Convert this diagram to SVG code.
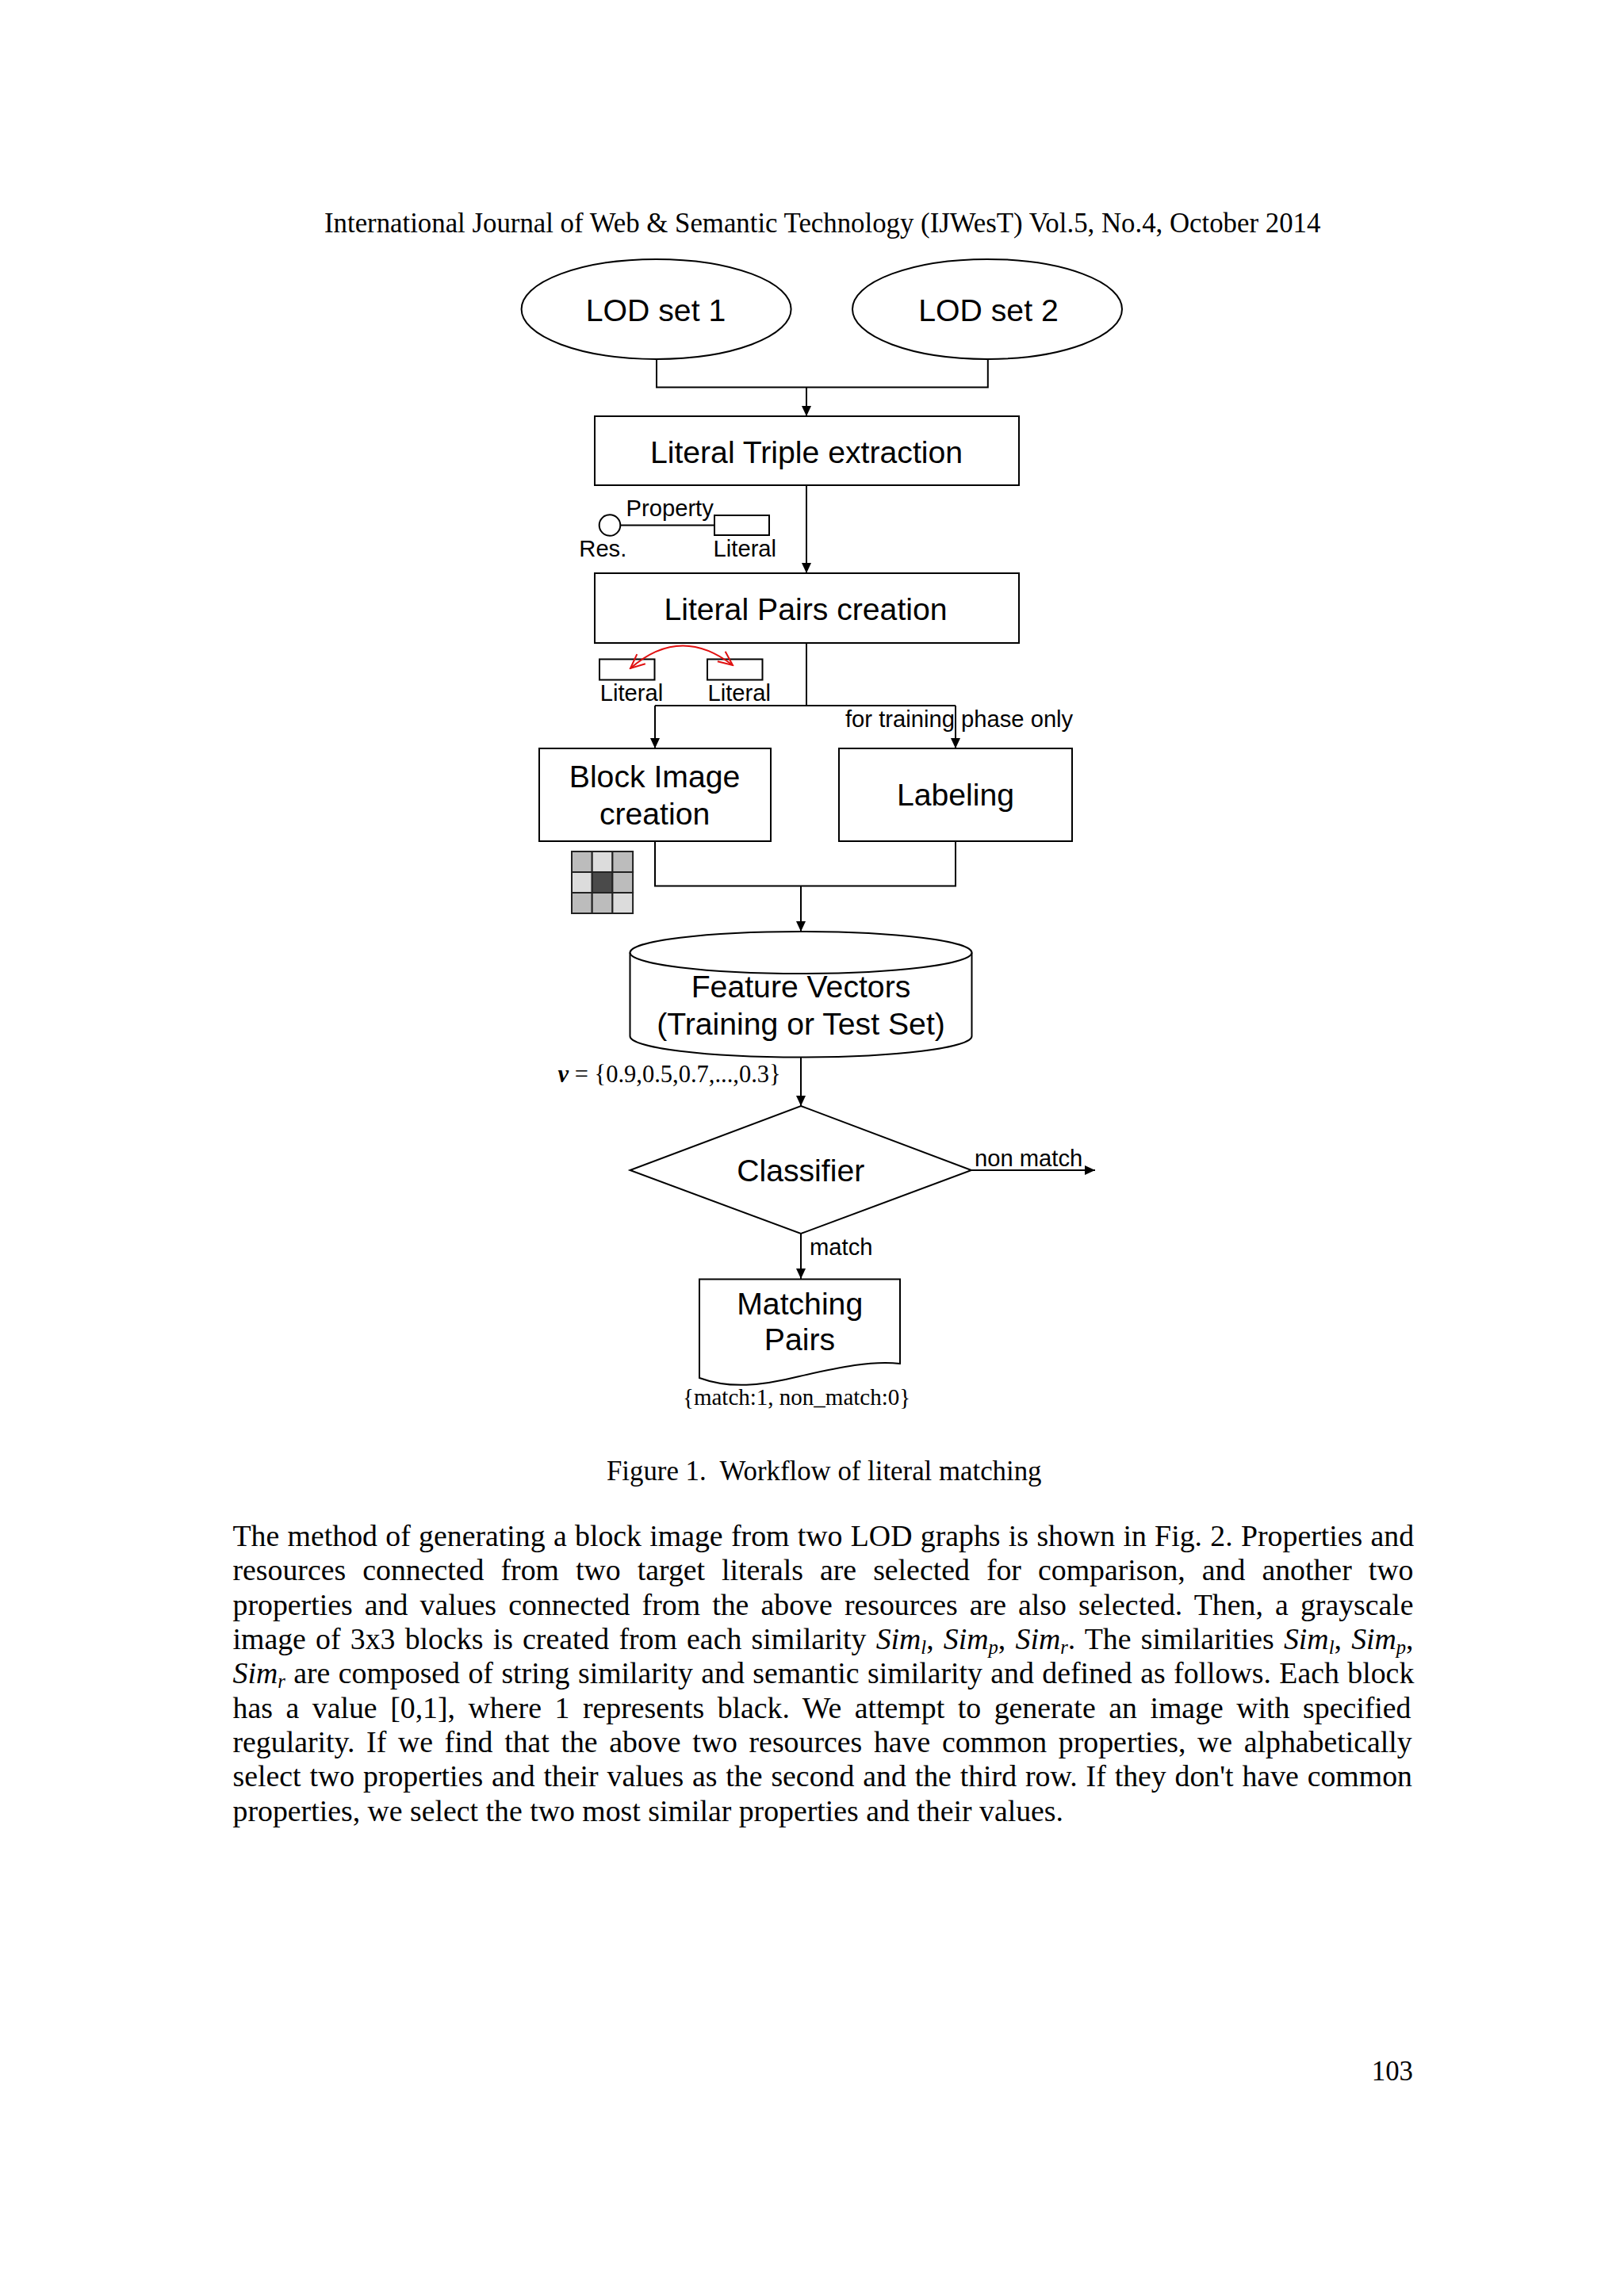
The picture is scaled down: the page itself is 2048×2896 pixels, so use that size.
<svg xmlns="http://www.w3.org/2000/svg" width="2048" height="2896" viewBox="0 0 2048 2896">
<defs>
<style>
.sans{font-family:"Liberation Sans",Arial,sans-serif;fill:#000}
.big{font-size:39.2px}
.small{font-size:29.2px}
.serif{font-family:"Liberation Serif","Times New Roman",serif;fill:#000}
.body{font-size:37.8px}
.hdr{font-size:34.8px}
.shape{fill:#fff;stroke:#000;stroke-width:2}
.line{fill:none;stroke:#000;stroke-width:2}
.it{font-style:italic}
.sub{font-style:italic;font-size:24.5px}
</style>
<marker id="arr" viewBox="0 0 13 12" refX="13" refY="6" markerWidth="13" markerHeight="12" markerUnits="userSpaceOnUse" orient="auto">
<path d="M0,0 L13,6 L0,12 z" fill="#000"/>
</marker>
<marker id="redv" viewBox="-20 -10 22 20" refX="0" refY="0" markerWidth="22" markerHeight="20" markerUnits="userSpaceOnUse" orient="auto-start-reverse">
<path d="M-18,-8 L0,0 L-18,8" fill="none" stroke="#e01010" stroke-width="2"/>
</marker>
</defs>
<rect x="0" y="0" width="2048" height="2896" fill="#fff"/>

<text class="serif hdr" x="409" y="293">International Journal of Web &amp; Semantic Technology (IJWesT) Vol.5, No.4, October 2014</text>

<g id="connectors">
<path class="line" d="M828,453 V488.6 H1245.8 V453"/>
<path class="line" d="M1017,488.6 V525" marker-end="url(#arr)"/>
<path class="line" d="M1017,612 V723" marker-end="url(#arr)"/>
<path class="line" d="M1017,811 V890"/>
<path class="line" d="M826,890 H1205"/>
<path class="line" d="M826,890 V944" marker-end="url(#arr)"/>
<path class="line" d="M1205,890 V944" marker-end="url(#arr)"/>
<path class="line" d="M826,1061 V1117.5 H1205 V1061"/>
<path class="line" d="M1010,1117.5 V1175" marker-end="url(#arr)"/>
<path class="line" d="M1010,1333 V1395" marker-end="url(#arr)"/>
<path class="line" d="M1225,1476 H1381" marker-end="url(#arr)"/>
<path class="line" d="M1010,1556 V1613" marker-end="url(#arr)"/>
<text class="sans small" x="1066" y="917">for training phase only</text>
<text class="serif" x="703.5" y="1365" font-size="30.5"><tspan font-weight="bold" font-style="italic">v</tspan> = {0.9,0.5,0.7,...,0.3}</text>
<text class="sans small" x="1229" y="1470.5">non match</text>
<text class="sans small" x="1021" y="1583">match</text>
</g>

<g id="lod1">
<ellipse class="shape" cx="827.6" cy="389.9" rx="170" ry="63"/>
<text class="sans big" x="827" y="404.6" text-anchor="middle">LOD set 1</text>
</g>
<g id="lod2">
<ellipse class="shape" cx="1245" cy="389.9" rx="170" ry="63"/>
<text class="sans big" x="1246.5" y="404.6" text-anchor="middle">LOD set 2</text>
</g>

<g id="triple-extraction">
<rect class="shape" x="750" y="525" width="535" height="87"/>
<text class="sans big" x="1017" y="584" text-anchor="middle">Literal Triple extraction</text>
</g>

<g id="triple-icon">
<path class="line" d="M782.5,662.5 H901"/>
<circle class="shape" cx="769" cy="662.5" r="13.3"/>
<rect class="shape" x="901" y="650" width="69" height="25"/>
<text class="sans small" x="789.5" y="651">Property</text>
<text class="sans small" x="730.3" y="702">Res.</text>
<text class="sans small" x="899.6" y="702">Literal</text>
</g>

<g id="pairs-creation">
<rect class="shape" x="750" y="723" width="535" height="88"/>
<text class="sans big" x="1016" y="782" text-anchor="middle">Literal Pairs creation</text>
</g>

<g id="pair-icon">
<rect class="shape" x="756" y="831.5" width="69.5" height="26"/>
<rect class="shape" x="892" y="831.5" width="69.5" height="26"/>
<path d="M795,843 Q858,788 924,839" fill="none" stroke="#e01010" stroke-width="2" marker-start="url(#redv)" marker-end="url(#redv)"/>
<text class="sans small" x="756.7" y="883.5">Literal</text>
<text class="sans small" x="892.5" y="883.5">Literal</text>
</g>

<g id="block-image">
<rect class="shape" x="680" y="944" width="292" height="117"/>
<text class="sans big" x="825.6" y="993" text-anchor="middle">Block Image</text>
<text class="sans big" x="825.6" y="1040" text-anchor="middle">creation</text>
</g>

<g id="labeling">
<rect class="shape" x="1058" y="944" width="294" height="117"/>
<text class="sans big" x="1205" y="1016" text-anchor="middle">Labeling</text>
</g>

<g id="block-grid" stroke="#222" stroke-width="2">
<rect x="721" y="1074" width="25.7" height="26" fill="#bcbcbc"/>
<rect x="746.7" y="1074" width="25.7" height="26" fill="#dcdcdc"/>
<rect x="772.4" y="1074" width="25.7" height="26" fill="#bcbcbc"/>
<rect x="721" y="1100" width="25.7" height="26" fill="#dcdcdc"/>
<rect x="746.7" y="1100" width="25.7" height="26" fill="#4a4a4a"/>
<rect x="772.4" y="1100" width="25.7" height="26" fill="#bcbcbc"/>
<rect x="721" y="1126" width="25.7" height="26" fill="#bcbcbc"/>
<rect x="746.7" y="1126" width="25.7" height="26" fill="#bcbcbc"/>
<rect x="772.4" y="1126" width="25.7" height="26" fill="#dcdcdc"/>
</g>

<g id="feature-vectors">
<path class="shape" d="M794.5,1201.5 V1307 A215.5,26.5 0 0 0 1225.5,1307 V1201.5"/>
<ellipse class="shape" cx="1010" cy="1201.5" rx="215.5" ry="26.5"/>
<text class="sans big" x="1010" y="1258" text-anchor="middle">Feature Vectors</text>
<text class="sans big" x="1010" y="1305" text-anchor="middle">(Training or Test Set)</text>
</g>

<g id="classifier">
<path class="shape" d="M1010,1395 L1225,1476 L1010,1556 L794.5,1476 Z"/>
<text class="sans big" x="1009.7" y="1490" text-anchor="middle">Classifier</text>
</g>

<g id="matching-pairs">
<path class="shape" d="M882,1613.5 H1135 V1720 C1100,1716 1060,1724 1008,1736 C960,1748 920,1752 882,1738 Z"/>
<text class="sans big" x="1008.7" y="1658" text-anchor="middle">Matching</text>
<text class="sans big" x="1008.5" y="1703" text-anchor="middle">Pairs</text>
<text class="serif" x="861" y="1771.5" font-size="29">{match:1, non_match:0}</text>
</g>

<text class="serif hdr"><tspan x="765" y="1867">Figure 1.</tspan><tspan x="907.5" y="1867">Workflow of literal matching</tspan></text>

<g id="body-text" class="serif body">
<text x="293.5" y="1950" word-spacing="0.87">The method of generating a block image from two LOD graphs is shown in Fig. 2. Properties and</text>
<text x="293.5" y="1993.3" word-spacing="11.58">resources connected from two target literals are selected for comparison, and another two</text>
<text x="293.5" y="2036.7" word-spacing="5.7">properties and values connected from the above resources are also selected. Then, a grayscale</text>
<text x="293.5" y="2080" word-spacing="2.78">image of 3x3 blocks is created from each similarity <tspan class="it">Sim</tspan><tspan class="sub" dy="6">l</tspan><tspan dy="-6">, </tspan><tspan class="it">Sim</tspan><tspan class="sub" dy="6">p</tspan><tspan dy="-6">, </tspan><tspan class="it">Sim</tspan><tspan class="sub" dy="6">r</tspan><tspan dy="-6">. The similarities </tspan><tspan class="it">Sim</tspan><tspan class="sub" dy="6">l</tspan><tspan dy="-6">, </tspan><tspan class="it">Sim</tspan><tspan class="sub" dy="6">p</tspan><tspan dy="-6">,</tspan></text>
<text x="293.5" y="2123.3" word-spacing="0.99"><tspan class="it">Sim</tspan><tspan class="sub" dy="6">r</tspan><tspan dy="-6"> are composed of string similarity and semantic similarity and defined as follows. Each block</tspan></text>
<text x="293.5" y="2166.7" word-spacing="7.1">has a value [0,1], where 1 represents black. We attempt to generate an image with specified</text>
<text x="293.5" y="2210" word-spacing="5.2">regularity. If we find that the above two resources have common properties, we alphabetically</text>
<text x="293.5" y="2253.3" word-spacing="1.42">select two properties and their values as the second and the third row. If they don't have common</text>
<text x="293.5" y="2296.7">properties, we select the two most similar properties and their values.</text>
</g>

<text class="serif hdr" x="1782" y="2624" text-anchor="end">103</text>
</svg>
